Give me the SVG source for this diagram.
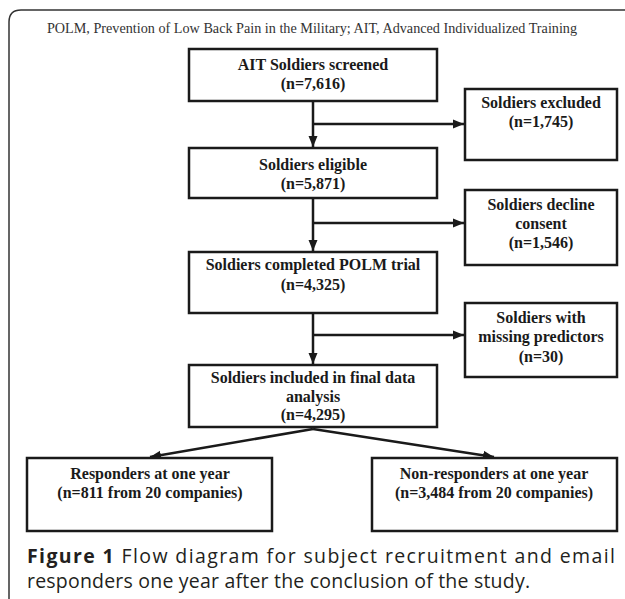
<svg xmlns="http://www.w3.org/2000/svg" width="625" height="599" viewBox="0 0 625 599">
  <style>
    .box { fill: #ffffff; stroke: #1a1a1a; stroke-width: 2.5; }
    .t { font-family: "Liberation Serif", "Times New Roman", serif; font-weight: bold; font-size: 16px; fill: #1a1a1a; text-anchor: middle; }
    .title { font-family: "Liberation Serif", "Times New Roman", serif; font-size: 14.2px; fill: #333333; text-anchor: middle; }
    .cap { font-family: "Open Sans", "Noto Sans", sans-serif; font-size: 19.5px; fill: #231f20; }
    .conn { fill: none; stroke: #1a1a1a; stroke-width: 2.5; }
    .frame { fill: none; stroke: #333333; stroke-width: 1.5; }
  </style>
  <defs>
    <marker id="arr" markerUnits="userSpaceOnUse" markerWidth="12" markerHeight="10" refX="11" refY="5" orient="auto">
      <path d="M0,0.5 L11,5 L0,9.5 Z" fill="#1a1a1a"/>
    </marker>
  </defs>
  <rect width="625" height="599" fill="#ffffff"/>
  <path class="frame" d="M9,599 L9,22 Q9,10 21,10 L625,10"/>
  <text class="title" x="312" y="33">POLM, Prevention of Low Back Pain in the Military; AIT, Advanced Individualized Training</text>

  <g id="connectors">
    <path class="conn" d="M313,101 L313,147" marker-end="url(#arr)"/>
    <path class="conn" d="M313,124 L464,124" marker-end="url(#arr)"/>
    <path class="conn" d="M313,198 L313,251" marker-end="url(#arr)"/>
    <path class="conn" d="M313,223 L464,223" marker-end="url(#arr)"/>
    <path class="conn" d="M313,313 L313,364" marker-end="url(#arr)"/>
    <path class="conn" d="M313,335 L464,335" marker-end="url(#arr)"/>
    <path class="conn" d="M313,429 L150,457" marker-end="url(#arr)"/>
    <path class="conn" d="M313,429 L494,457" marker-end="url(#arr)"/>
  </g>

  <g id="screened">
    <rect class="box" x="189" y="49" width="248" height="52"/>
    <text class="t" x="313" y="70">AIT Soldiers screened</text>
    <text class="t" x="313" y="89">(n=7,616)</text>
  </g>
  <g id="excluded">
    <rect class="box" x="465" y="89" width="152" height="71"/>
    <text class="t" x="541" y="108">Soldiers excluded</text>
    <text class="t" x="541" y="127">(n=1,745)</text>
  </g>
  <g id="eligible">
    <rect class="box" x="189" y="148" width="248" height="50"/>
    <text class="t" x="313" y="170">Soldiers eligible</text>
    <text class="t" x="313" y="189">(n=5,871)</text>
  </g>
  <g id="decline">
    <rect class="box" x="465" y="190" width="152" height="75"/>
    <text class="t" x="541" y="210">Soldiers decline</text>
    <text class="t" x="541" y="229">consent</text>
    <text class="t" x="541" y="248">(n=1,546)</text>
  </g>
  <g id="completed">
    <rect class="box" x="189" y="252" width="248" height="61"/>
    <text class="t" x="313" y="270">Soldiers completed POLM trial</text>
    <text class="t" x="313" y="290">(n=4,325)</text>
  </g>
  <g id="missing">
    <rect class="box" x="465" y="303" width="152" height="74"/>
    <text class="t" x="541" y="323">Soldiers with</text>
    <text class="t" x="541" y="342">missing predictors</text>
    <text class="t" x="541" y="362">(n=30)</text>
  </g>
  <g id="included">
    <rect class="box" x="189" y="365" width="248" height="62"/>
    <text class="t" x="313" y="383">Soldiers included in final data</text>
    <text class="t" x="313" y="402">analysis</text>
    <text class="t" x="313" y="420">(n=4,295)</text>
  </g>
  <g id="responders">
    <rect class="box" x="27" y="458" width="245" height="73"/>
    <text class="t" x="150" y="479">Responders at one year</text>
    <text class="t" x="150" y="498">(n=811 from 20 companies)</text>
  </g>
  <g id="nonresponders">
    <rect class="box" x="372" y="458" width="245" height="73"/>
    <text class="t" x="494" y="479">Non-responders at one year</text>
    <text class="t" x="494" y="498">(n=3,484 from 20 companies)</text>
  </g>

  <text class="cap" x="27" y="563" textLength="588" lengthAdjust="spacing"><tspan font-weight="bold">Figure 1</tspan> Flow diagram for subject recruitment and email</text>
  <text class="cap" x="27" y="588" textLength="503" lengthAdjust="spacing">responders one year after the conclusion of the study.</text>
</svg>
